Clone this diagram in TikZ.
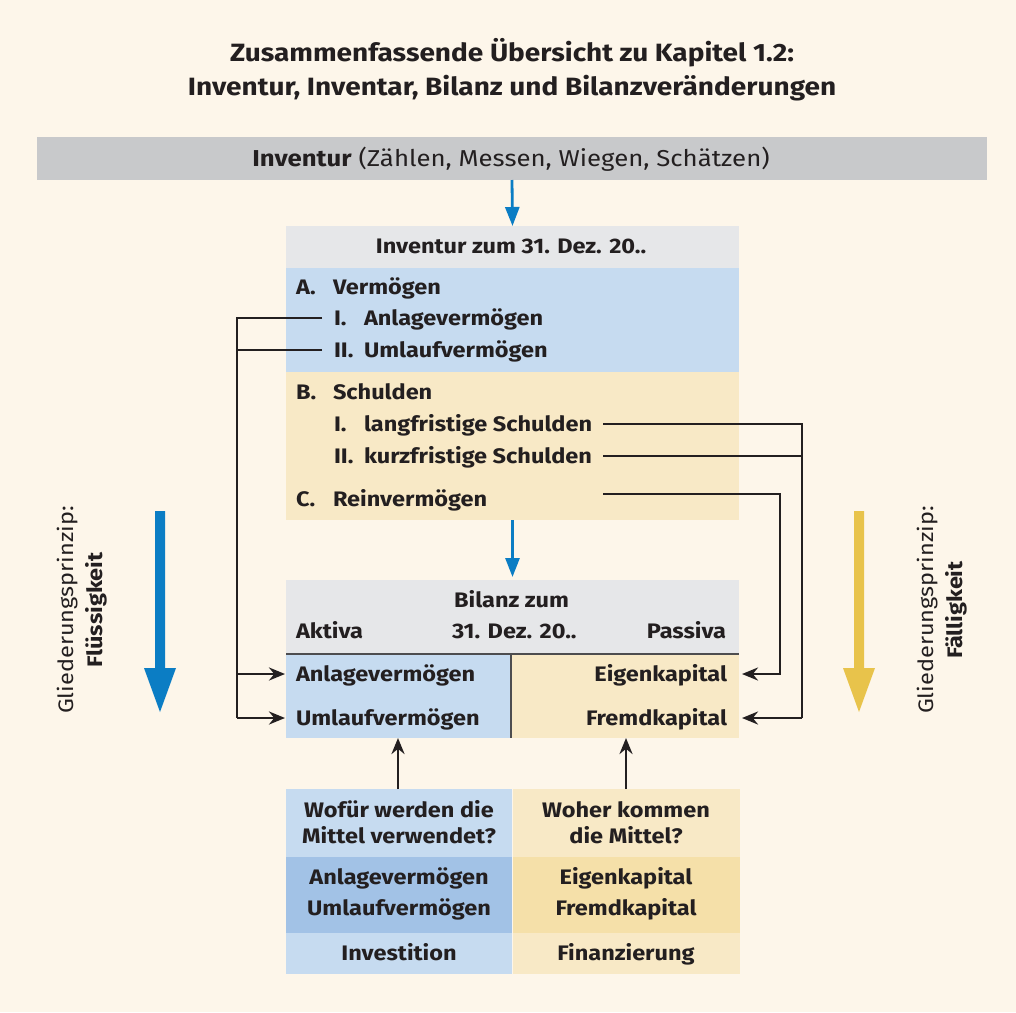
\documentclass[tikz,border=0pt]{standalone}
\usepackage{fontspec}
\setmainfont{Fira Sans}[FakeStretch=1.12]
\usetikzlibrary{arrows.meta}
\definecolor{bgc}{HTML}{FDF6EA}
\definecolor{barc}{HTML}{C8C9CB}
\definecolor{headc}{HTML}{E6E7E9}
\definecolor{blueL}{HTML}{C6DBF0}
\definecolor{blueD}{HTML}{A2C2E6}
\definecolor{yelL}{HTML}{F8E9C6}
\definecolor{yelD}{HTML}{F5E0A9}
\definecolor{arrB}{HTML}{0B7DC4}
\definecolor{arrY}{HTML}{E8C34B}
\definecolor{ink}{HTML}{231F20}
\definecolor{tl}{HTML}{4D4D4F}
\begin{document}
\begin{tikzpicture}[x=1pt,y=-1pt,
  box/.style={inner sep=0,outer sep=0,minimum width=#1},
  txt/.style={inner sep=0,outer sep=0,text=ink,font=\fontsize{21}{25}\selectfont\bfseries},
  ttl/.style={inner sep=0,outer sep=0,text=ink,font=\fontsize{25}{30}\selectfont\bfseries},
  side/.style={inner sep=0,outer sep=0,text=ink,rotate=90,align=center,font=\fontsize{21}{29}\selectfont},
  conn/.style={draw=ink,line width=2.9pt},
  tip/.style={-{Stealth[length=16pt,width=13pt]}},
  barrow/.style={draw=arrB,line width=2.8pt,-{Triangle[length=19pt,width=14pt]}},
  tline/.style={draw=tl,line width=1.8pt}]
\fill[bgc] (0,0) rectangle (1016,1012);
\useasboundingbox (0,0) rectangle (1016,1012);
% title
\node[ttl,anchor=base] (t1) at (512,61) {Zusammenfassende Übersicht zu Kapitel 1.2:};
\node[ttl,anchor=base] (t2) at (512,95) {Inventur, Inventar, Bilanz und Bilanzveränderungen};
% gray bar
\node[box=950,minimum height=43,fill=barc] (bar) at (512,158.5) {};
\node[txt,anchor=base,font=\fontsize{23}{26}\selectfont] (bart) at (511,166) {\textbf{Inventur} (Zählen, Messen, Wiegen, Schätzen)};
% Inventur box
\node[box=453,minimum height=42,fill=headc] (ih) at (512.5,247) {};
\node[box=453,minimum height=104,fill=blueL] (ia) at (512.5,320) {};
\node[box=453,minimum height=148,fill=yelL] (ib) at (512.5,446) {};
\node[txt,anchor=base] (iht) at (511,253) {Inventur zum 31. Dez. 20..};
\node[txt,anchor=base west] (lA) at (296,294) {A.};
\node[txt,anchor=base west] (tA) at (333,294) {Vermögen};
\node[txt,anchor=base west] (lA1) at (334,325) {I.};
\node[txt,anchor=base west] (tA1) at (364,325) {Anlagevermögen};
\node[txt,anchor=base west] (lA2) at (334,357) {II.};
\node[txt,anchor=base west] (tA2) at (364,357) {Umlaufvermögen};
\node[txt,anchor=base west] (lB) at (296,399) {B.};
\node[txt,anchor=base west] (tB) at (333,399) {Schulden};
\node[txt,anchor=base west] (lB1) at (334,431) {I.};
\node[txt,anchor=base west] (tB1) at (364,431) {langfristige Schulden};
\node[txt,anchor=base west] (lB2) at (334,463) {II.};
\node[txt,anchor=base west] (tB2) at (364,463) {kurzfristige Schulden};
\node[txt,anchor=base west] (lC) at (296,506) {C.};
\node[txt,anchor=base west] (tC) at (333,506) {Reinvermögen};
% Bilanz
\node[box=453,minimum height=74,fill=headc] (bh) at (512.5,617) {};
\node[box=225,minimum height=84,fill=blueL] (bl) at (398.5,696) {};
\node[box=228,minimum height=84,fill=yelL] (br) at (625,696) {};
\draw[tline] (bh.south west) -- (bh.south east);
\draw[tline] (bl.north east) -- (bl.south east);
\node[txt,anchor=base] (bht) at (511.5,607) {Bilanz zum};
\node[txt,anchor=base west] (akt) at (296,638) {Aktiva};
\node[txt,anchor=base west] (dat) at (452,638) {31. Dez. 20..};
\node[txt,anchor=base east] (pas) at (726,638) {Passiva};
\node[txt,anchor=base west] (bAV) at (296,681) {Anlagevermögen};
\node[txt,anchor=base west] (bUV) at (296,725) {Umlaufvermögen};
\node[txt,anchor=base east] (bEK) at (727,681) {Eigenkapital};
\node[txt,anchor=base east] (bFK) at (727,725) {Fremdkapital};
% bottom table
\node[box=226,minimum height=68,fill=blueL] (q1l) at (399,823) {};
\node[box=227,minimum height=68,fill=yelL] (q1r) at (626.5,823) {};
\node[box=226,minimum height=76,fill=blueD] (q2l) at (399,895) {};
\node[box=227,minimum height=76,fill=yelD] (q2r) at (626.5,895) {};
\node[box=226,minimum height=41,fill=blueL] (q3l) at (399,953.5) {};
\node[box=227,minimum height=41,fill=yelL] (q3r) at (626.5,953.5) {};
\node[txt,anchor=base] (q1la) at (399,817) {Wofür werden die};
\node[txt,anchor=base] (q1lb) at (399,843) {Mittel verwendet?};
\node[txt,anchor=base] (q1ra) at (626,817) {Woher kommen};
\node[txt,anchor=base] (q1rb) at (626,843) {die Mittel?};
\node[txt,anchor=base] (q2la) at (399,884) {Anlagevermögen};
\node[txt,anchor=base] (q2lb) at (399,915) {Umlaufvermögen};
\node[txt,anchor=base] (q2ra) at (626,884) {Eigenkapital};
\node[txt,anchor=base] (q2rb) at (626,915) {Fremdkapital};
\node[txt,anchor=base] (q3lt) at (399,960) {Investition};
\node[txt,anchor=base] (q3rt) at (626,960) {Finanzierung};
% blue flow arrows
\draw[barrow] (bar.south) -- (ih.north);
\draw[barrow] (ib.south) -- ([yshift=3pt]bh.north);
% up arrows
\draw[conn,tip] ([xshift=-1pt]q1l.north) -- ([xshift=-1pt]q1l.north |- bl.south);
\draw[conn,tip] ([xshift=-0.5pt]q1r.north) -- ([xshift=-0.5pt]q1r.north |- br.south);
% buses
\coordinate (lbus) at (237,0);
\coordinate (rbus) at (802,0);
\coordinate (cbus) at (780,0);
\coordinate (rs) at (603,0);
\draw[conn] ([shift={(-12pt,7pt)}]lA1.base west) -- ([yshift=7pt]lA1.base west -| lbus)
  -- ([yshift=7pt]bUV.base west -| lbus);
\draw[conn] ([shift={(-12pt,7pt)}]lA2.base west) -- ([yshift=7pt]lA2.base west -| lbus);
\draw[conn,tip] ([yshift=7pt]bAV.base west -| lbus) -- ([shift={(-11pt,7pt)}]bAV.base west);
\draw[conn,tip] ([yshift=7pt]bUV.base west -| lbus) -- ([shift={(-11pt,7pt)}]bUV.base west);
\draw[conn] ([yshift=7pt]tB1.base -| rs) -- ([yshift=7pt]tB1.base -| rbus)
  -- ([yshift=7pt]bFK.base east -| rbus);
\draw[conn] ([yshift=7pt]tB2.base -| rs) -- ([yshift=7pt]tB2.base -| rbus);
\draw[conn,tip] ([yshift=7pt]bFK.base east -| rbus) -- ([shift={(15pt,7pt)}]bFK.base east);
\draw[conn,tip] ([yshift=12pt]tC.base -| rs) -- ([yshift=12pt]tC.base -| cbus)
  -- ([yshift=7pt]bEK.base east -| cbus) -- ([shift={(15pt,7pt)}]bEK.base east);
% big side arrows
\fill[arrB] (155,511) -- (165,511) -- (165,668) -- (176,668) -- (160,712) -- (144,668) -- (155,668) -- cycle;
\fill[arrY] (854,511) -- (864,511) -- (864,668) -- (875,668) -- (859,712) -- (843,668) -- (854,668) -- cycle;
\node[side] (sl) at (82,610) {Gliederungsprinzip:\\\textbf{Flüssigkeit}};
\node[side] (sr) at (942,610) {Gliederungsprinzip:\\\textbf{Fälligkeit}};
\end{tikzpicture}
\end{document}
